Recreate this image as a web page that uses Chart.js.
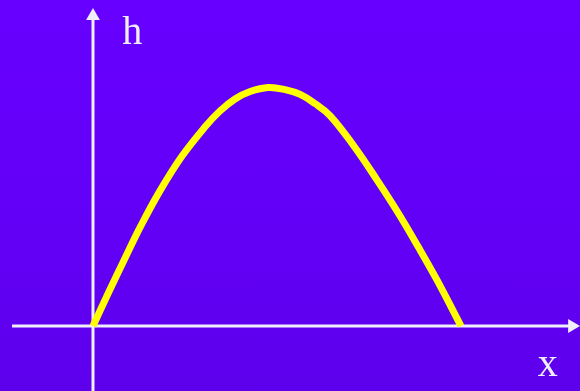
<!DOCTYPE html>
<html>
<head>
<meta charset="utf-8">
<script src="https://cdn.jsdelivr.net/npm/chart.js@4/dist/chart.umd.min.js"></script>
<style>
  html, body { margin: 0; padding: 0; }
  body { width: 580px; height: 391px; overflow: hidden;
         background: linear-gradient(to bottom, #6700ff 0%, #6200f6 60%, #5d00ec 100%); }
  #wrap { position: relative; width: 580px; height: 391px; }
</style>
</head>
<body>
<div id="wrap"><canvas id="chart"></canvas></div>
<script>
// trajectory: horizontal distance x, height h
const xs = [0, 0.41, 0.84, 1.30, 1.82, 2.42, 3.04, 3.45, 3.86, 4.27, 4.76,
            5.22, 5.63, 6.03, 6.44, 7.07, 7.72, 8.29, 8.83, 9.35, 10.0];
const hs = [0, 1.35, 2.73, 4.17, 5.63, 7.08, 8.29, 8.96, 9.46, 9.77, 9.94,
            9.85, 9.65, 9.27, 8.77, 7.54, 6.08, 4.72, 3.32, 1.91, 0];

// axis extents (data units) and their labels
const xAxisSpan = [-2.2, 13.02];
const hAxisSpan = [-2.8, 12.92];
const axisLabels = [
  { text: "h", x: 1.07, y: 11.75 },
  { text: "x", x: 12.36, y: -2.08 }
];

const AXIS_COLOR = "#f0eefa";
const CURVE_COLOR = "#ffff00";

const curve = xs.map((x, i) => ({ x, y: hs[i] }));

const labelPlugin = {
  id: "axisLabels",
  afterDatasetsDraw(chart) {
    const { ctx, scales } = chart;
    ctx.save();
    ctx.fillStyle = AXIS_COLOR;
    ctx.font = '40px "Liberation Serif", "DejaVu Serif", serif';
    ctx.textAlign = "center";
    ctx.textBaseline = "alphabetic";
    axisLabels.forEach((l) => {
      ctx.fillText(l.text, scales.x.getPixelForValue(l.x), scales.y.getPixelForValue(l.y));
    });
    ctx.restore();
  }
};

new Chart(document.getElementById("chart"), {
  type: "scatter",
  data: {
    datasets: [
      {
        label: "x-axis",
        data: [{ x: xAxisSpan[0], y: 0 }, { x: xAxisSpan[1], y: 0 }],
        showLine: true,
        borderColor: AXIS_COLOR,
        backgroundColor: AXIS_COLOR,
        borderWidth: 3,
        pointStyle: "triangle",
        pointRadius: [0, 8],
        pointRotation: 90,
        pointBorderWidth: 0,
        clip: false,
        order: 2
      },
      {
        label: "h-axis",
        data: [{ x: 0, y: hAxisSpan[0] }, { x: 0, y: hAxisSpan[1] }],
        showLine: true,
        borderColor: AXIS_COLOR,
        backgroundColor: AXIS_COLOR,
        borderWidth: 3,
        pointStyle: "triangle",
        pointRadius: [0, 8],
        pointRotation: 0,
        pointBorderWidth: 0,
        clip: false,
        order: 2
      },
      {
        label: "h(x)",
        data: curve,
        showLine: true,
        borderColor: CURVE_COLOR,
        borderWidth: 7,
        borderCapStyle: "butt",
        tension: 0.4,
        pointRadius: 0,
        clip: false,
        order: 1
      }
    ]
  },
  plugins: [labelPlugin],
  options: {
    responsive: true,
    maintainAspectRatio: false,
    animation: false,
    layout: { padding: 0, autoPadding: false },
    plugins: {
      legend: { display: false },
      tooltip: { enabled: false }
    },
    scales: {
      x: {
        type: "linear",
        display: false,
        min: -2.527,
        max: 13.234
      },
      y: {
        type: "linear",
        display: false,
        min: -2.708,
        max: 13.583
      }
    }
  }
});
</script>
</body>
</html>
